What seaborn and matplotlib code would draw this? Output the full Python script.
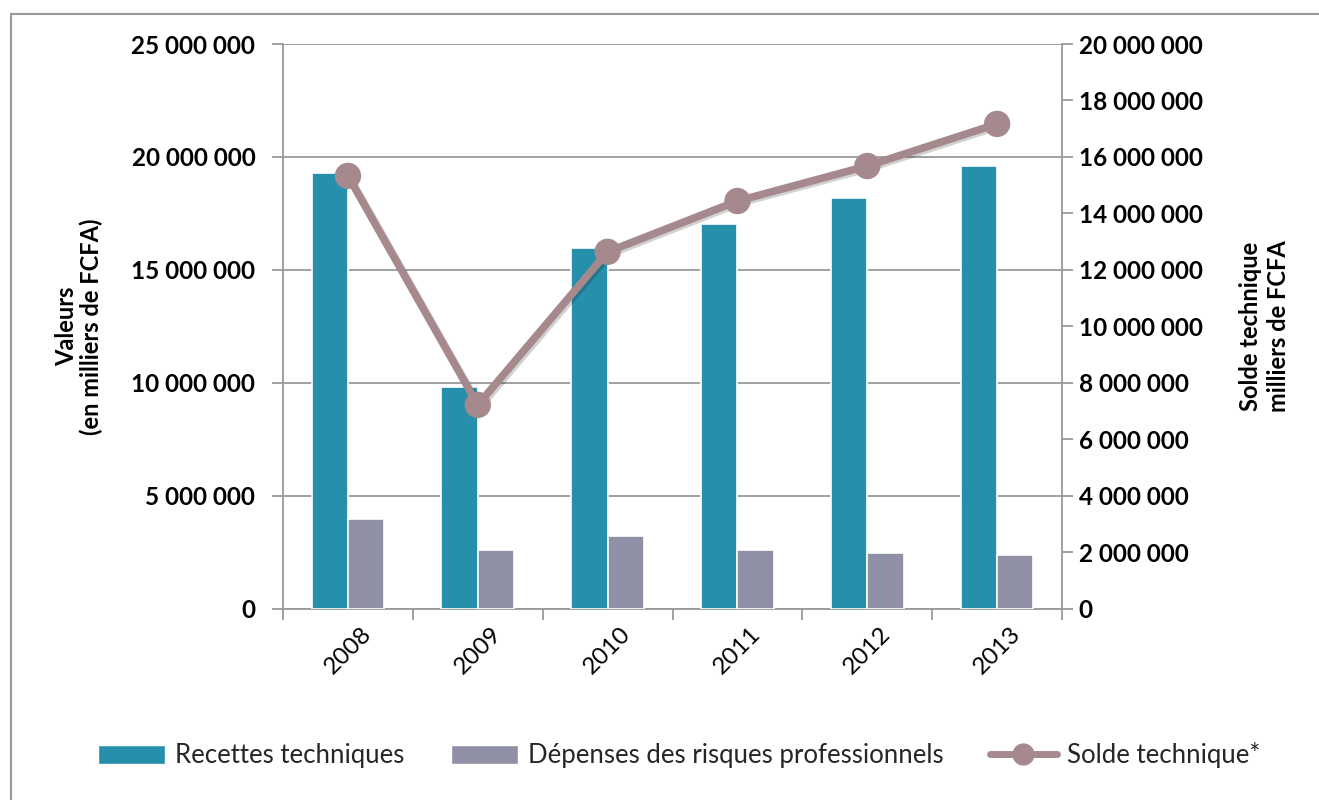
import numpy as np
import pandas as pd
import matplotlib
matplotlib.use("Agg")
import matplotlib.pyplot as plt
import matplotlib.patheffects as pe
from matplotlib.lines import Line2D
from matplotlib.patches import Patch, Rectangle
from matplotlib.ticker import FuncFormatter, FixedLocator
import seaborn as sns

# Data (milliers de FCFA)
years = ["2008", "2009", "2010", "2011", "2012", "2013"]
recettes = [19280000, 9820000, 15960000, 17030000, 18180000, 19600000]
depenses = [3980000, 2610000, 3230000, 2620000, 2480000, 2400000]
solde = [15330000, 7220000, 12640000, 14440000, 15680000, 17170000]

series_names = ["Recettes techniques", "Dépenses des risques professionnels", "Solde technique*"]
left_ticks = [0, 5000000, 10000000, 15000000, 20000000, 25000000]
right_ticks = list(range(0, 20000001, 2000000))

teal = "#268FAB"
grey = "#8F8FA5"
mauve = "#A6898D"
axis_grey = "#9A9A9A"

sns.set_theme(style="white")
plt.rcParams["font.family"] = ["Lato", "DejaVu Sans"]


def fmt(v, pos):
    return f"{int(v):,}".replace(",", " ")


def solde_chart():
    df = pd.DataFrame({
        "year": years * 2,
        "value": recettes + depenses,
        "serie": [series_names[0]] * len(years) + [series_names[1]] * len(years),
    })

    fig = plt.figure(figsize=(13.19, 8), dpi=100)
    ax = fig.add_axes([0.2146, 0.239, 0.5906, 0.706])

    sns.barplot(data=df, x="year", y="value", hue="serie", ax=ax,
                palette=[teal, grey], saturation=1, width=0.56, gap=0.0,
                edgecolor="white", linewidth=1.2, legend=False, zorder=3)

    ax.set_ylim(0, 25000000)
    ax.set_xlim(-0.5, len(years) - 0.5)
    ax.yaxis.set_major_locator(FixedLocator(left_ticks))
    ax.yaxis.set_major_formatter(FuncFormatter(fmt))
    ax.grid(axis="y", color=axis_grey, linewidth=1.3, zorder=0)
    ax.set_axisbelow(True)

    # category boundary ticks
    ax.set_xticks(np.arange(-0.5, len(years), 1.0), minor=False)
    ax.set_xticklabels([""] * (len(years) + 1))
    ax.set_xticks(np.arange(len(years)), minor=True)
    ax.set_xticklabels(years, minor=True, rotation=45, fontsize=17.5, color="black")
    ax.tick_params(axis="x", which="major", length=8, width=1.3, color=axis_grey, direction="out", bottom=True)
    ax.tick_params(axis="x", which="minor", length=0, pad=30)
    for lab in ax.get_xticklabels(minor=True):
        lab.set_ha("center")
        lab.set_va("center")
    ax.tick_params(axis="y", length=8, width=1.3, color=axis_grey, direction="out", left=True,
                   labelsize=17.5, labelcolor="black", pad=12)
    for lab in ax.get_yticklabels():
        lab.set_fontweight("bold")

    for s in ["top", "right"]:
        ax.spines[s].set_visible(False)
    for s in ["left", "bottom"]:
        ax.spines[s].set_color(axis_grey)
        ax.spines[s].set_linewidth(1.3)

    ax.set_xlabel("")
    ax.set_ylabel("Valeurs\n(en milliers de FCFA)", fontsize=17, fontweight="bold",
                  color="black", labelpad=20, linespacing=1.1)

    # secondary axis: solde technique
    ax2 = ax.twinx()
    shadow = [pe.SimpleLineShadow(offset=(1.5, -1.5), alpha=0.18, shadow_color="black"), pe.Normal()]
    sns.lineplot(x=np.arange(len(years)), y=solde, ax=ax2, color=mauve, linewidth=5.5,
                 marker="o", markersize=19, markeredgewidth=0, path_effects=shadow, zorder=5)
    ax2.set_ylim(0, 20000000)
    ax2.set_xlim(-0.5, len(years) - 0.5)
    ax2.yaxis.set_major_locator(FixedLocator(right_ticks))
    ax2.yaxis.set_major_formatter(FuncFormatter(fmt))
    ax2.tick_params(axis="y", length=8, width=1.3, color=axis_grey, direction="out", right=True,
                    labelsize=17.5, labelcolor="black", pad=4)
    for lab in ax2.get_yticklabels():
        lab.set_fontweight("bold")
    for s in ["top", "left", "bottom"]:
        ax2.spines[s].set_visible(False)
    ax2.spines["right"].set_color(axis_grey)
    ax2.spines["right"].set_linewidth(1.3)
    ax2.grid(False)
    ax2.set_ylabel("Solde technique\nmilliers de FCFA", fontsize=17, fontweight="bold",
                   color="black", labelpad=26, linespacing=1.25)

    handles = [Patch(facecolor=teal, edgecolor="white"),
               Patch(facecolor=grey, edgecolor="white"),
               Line2D([0], [0], color=mauve, linewidth=5, marker="o", markersize=15)]
    fig.legend(handles, series_names, loc="center", bbox_to_anchor=(0.515, 0.056), ncol=3,
               frameon=False, fontsize=18.5, handlelength=2.6, handleheight=0.75,
               handletextpad=0.4, columnspacing=1.8)

    # outer chart border
    fig.patches.append(Rectangle((11 / 1319, -0.01), 1.02, 1 - 14 / 800 + 0.01, transform=fig.transFigure,
                                 fill=False, edgecolor=axis_grey, linewidth=1.5))

    fig.savefig("out.png", dpi=100)


if __name__ == "__main__":
    solde_chart()
